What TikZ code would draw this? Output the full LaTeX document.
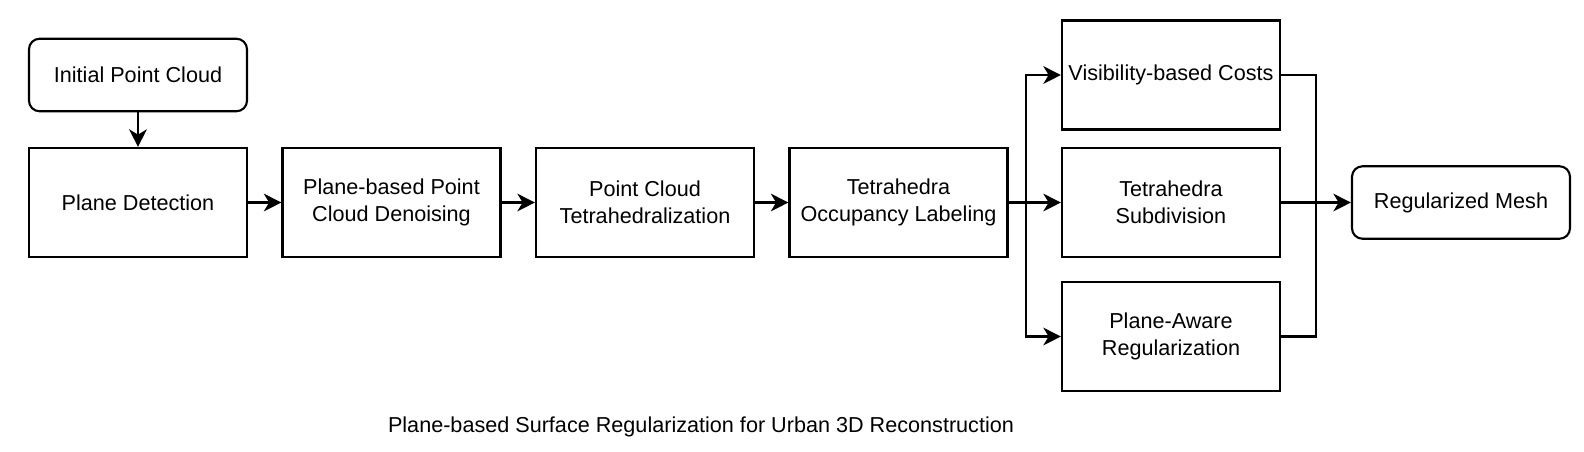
\documentclass[tikz,border=0pt]{standalone}
\usepackage{fontspec}
\setmainfont{Liberation Sans}
\usetikzlibrary{arrows.meta}
\begin{document}
\begin{tikzpicture}[->,>={Stealth[length=10pt,width=10pt,inset=3pt]},line width=1.2pt]
	\tikzstyle{pbox}=[rectangle,draw=black,minimum width=4.36cm,minimum height=2.18cm,align=center,inner sep=0pt,font=\fontsize{12.3}{15.3}\selectfont]
	\tikzstyle{rbox}=[pbox,rounded corners=6pt,minimum height=1.45cm]
	\tikzstyle{caption}=[font=\fontsize{12.3}{15}\selectfont]
	\useasboundingbox (0,0) rectangle (31.68,-9.02);
	% main row
	\node[rbox] (P-init) at (2.76,-1.5) {Initial Point Cloud};
	\node[pbox] (P-detect) at (2.76,-4.05) {Plane Detection};
	\node[pbox] (P-denoise) at (7.83,-4.05) {Plane-based Point\\Cloud Denoising};
	\node[pbox] (P-tetra) at (12.9,-4.05) {Point Cloud\\Tetrahedralization};
	\node[pbox] (P-occ) at (17.97,-4.05) {Tetrahedra\\Occupancy Labeling};
	% parallel steps
	\node[pbox] (P-vis) at (23.42,-1.5) {Visibility-based Costs};
	\node[pbox] (P-sub) at (23.42,-4.05) {Tetrahedra\\Subdivision};
	\node[pbox] (P-aware) at (23.42,-6.73) {Plane-Aware\\Regularization};
	\node[rbox] (P-mesh) at (29.22,-4.05) {Regularized Mesh};
	\node[caption] (P-title) at (14.02,-8.54) {Plane-based Surface Regularization for Urban 3D Reconstruction};
	\coordinate (P-split) at (20.52,-4.05);
	\coordinate (P-merge) at (26.32,-4.05);
	\draw (P-init) -- (P-detect);
	\draw (P-detect) -- (P-denoise);
	\draw (P-denoise) -- (P-tetra);
	\draw (P-tetra) -- (P-occ);
	\draw[-] (P-occ.east) -- (P-split);
	\draw (P-split) |- (P-vis.west);
	\draw (P-split) -- (P-sub.west);
	\draw (P-split) |- (P-aware.west);
	\draw[-] (P-vis.east) -| (P-merge);
	\draw[-] (P-aware.east) -| (P-merge);
	\draw (P-sub.east) -- (P-mesh.west);
\end{tikzpicture}
\end{document}
